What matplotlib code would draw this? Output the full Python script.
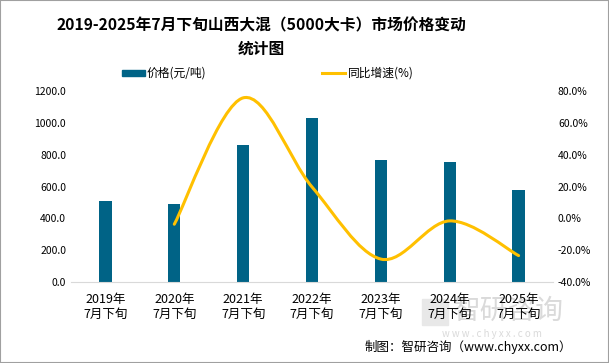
import numpy as np
import matplotlib
matplotlib.use('Agg')
import matplotlib.pyplot as plt
from matplotlib.path import Path
import matplotlib.patches as patches

plt.rcParams['font.family'] = ['Noto Sans CJK SC', 'DejaVu Sans']

# 数据
years = ['2019年\n7月下旬', '2020年\n7月下旬', '2021年\n7月下旬', '2022年\n7月下旬',
         '2023年\n7月下旬', '2024年\n7月下旬', '2025年\n7月下旬']
price = [509, 490, 861, 1031, 767, 755, 578]
growth = [None, -3.7, 75.7, 19.7, -25.6, -1.6, -23.4]

BAR_C = '#006386'
LINE_C = '#FFC000'

fig = plt.figure(figsize=(6.09, 3.63), dpi=100)
ax = fig.add_axes([0.1166, 0.2231, 0.7915, 0.5262])
ax.set_facecolor('none')
ax2 = ax.twinx()

x = np.arange(len(years))
ax.bar(x, price, width=0.18, color=BAR_C, zorder=2)
ax.set_xlim(-0.5, len(years) - 0.5)
ax.set_ylim(0, 1200)
ax.set_yticks(np.arange(0, 1201, 200))
ax.set_yticklabels([f'{v:.1f}' for v in np.arange(0, 1201, 200)], fontsize=7.5)
ax.set_xticks(x)
ax.set_xticklabels(years, fontsize=9, linespacing=1.2)

ax2.set_ylim(-40, 80)
ax2.set_yticks(np.arange(-40, 81, 20))
ax2.set_yticklabels([f'{v:.1f}%' for v in np.arange(-40, 81, 20)], fontsize=7.5)

for a in (ax, ax2):
    for s in ('top', 'left', 'right'):
        a.spines[s].set_visible(False)
    a.tick_params(length=0)
ax.spines['bottom'].set_color('#d9d9d9')
ax2.spines['bottom'].set_visible(False)
ax.tick_params(axis='x', pad=8)

# 平滑曲线 (Bezier)
pts = [(i, g) for i, g in zip(x, growth) if g is not None]
verts = [pts[0]]
codes = [Path.MOVETO]
for k in range(len(pts) - 1):
    p0 = pts[k - 1] if k > 0 else pts[k]
    p1 = pts[k]
    p2 = pts[k + 1]
    p3 = pts[k + 2] if k + 2 < len(pts) else pts[k + 1]
    c1 = (p1[0] + (p2[0] - p0[0]) / 6, p1[1] + (p2[1] - p0[1]) / 6)
    c2 = (p2[0] - (p3[0] - p1[0]) / 6, p2[1] - (p3[1] - p1[1]) / 6)
    verts += [c1, c2, p2]
    codes += [Path.CURVE4] * 3
curve = patches.PathPatch(Path(verts, codes), facecolor='none', edgecolor=LINE_C,
                          lw=2.2, capstyle='round', zorder=3)
ax2.add_patch(curve)

# 标题
fig.text(261 / 609, 1 - 37 / 363, '2019-2025年7月下旬山西大混（5000大卡）市场价格变动\n统计图',
         ha='center', va='center', fontsize=11.3, fontweight='bold', linespacing=1.55)

# 图例
fig.patches.append(patches.Rectangle((122 / 609, 1 - 76 / 363), 23 / 609, 6 / 363,
                                     transform=fig.transFigure, color=BAR_C))
fig.text(147 / 609, 1 - 73 / 363, '价格(元/吨)', fontsize=8.5, va='center')
fig.lines.append(plt.Line2D([322 / 609, 345 / 609], [1 - 73 / 363, 1 - 73 / 363],
                            transform=fig.transFigure, color=LINE_C, lw=2.2))
fig.text(348 / 609, 1 - 73 / 363, '同比增速(%)', fontsize=8.5, va='center')

# 水印 (放在坐标轴之下)
fig.patches.append(patches.Rectangle((422 / 609, 1 - 325 / 363), 26 / 609, 26 / 363,
                                     transform=fig.transFigure, color='#e8e8e8', zorder=-1))
fig.text(508 / 609, 1 - 311 / 363, '智研咨询', fontsize=20, color='#dadada',
         ha='center', va='center', zorder=-1)
fig.text(492 / 609, 1 - 334 / 363, 'w w w . c h y x x . c o m', fontsize=7,
         color='#dadada', ha='center', va='center', zorder=-1)

# 来源
fig.text(572 / 609, 1 - 347 / 363, '制图：智研咨询（www.chyxx.com）', fontsize=9,
         ha='right', va='center')

# 边框
fig.patches.append(patches.Rectangle((0, 0), 1, 1, transform=fig.transFigure,
                                     fill=False, edgecolor='#a0a0a0', lw=1.5))

fig.savefig('out.png', dpi=100)
